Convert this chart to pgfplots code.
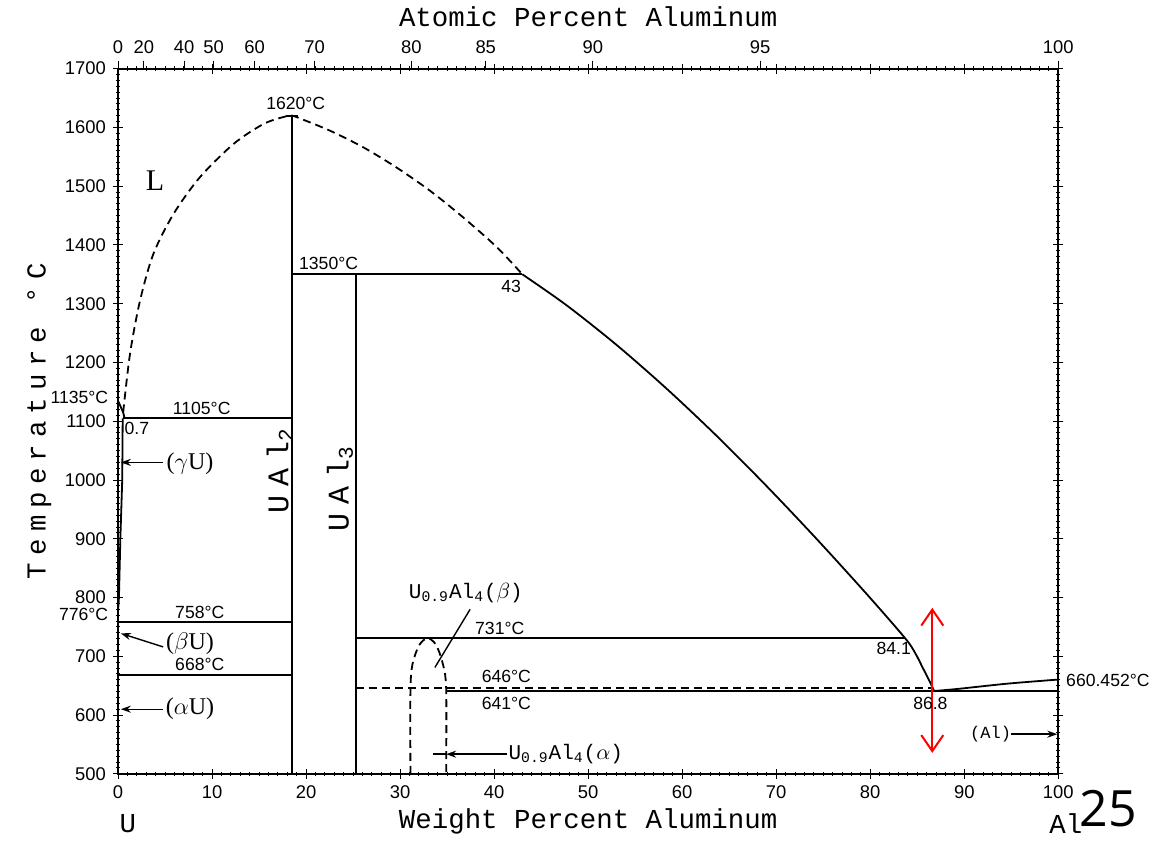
\documentclass[border=0pt]{standalone}
\usepackage{fontspec}
\setmainfont{Liberation Sans}
\newfontfamily\tw{Liberation Mono}
\newfontfamily\twsp[LetterSpace=26]{Liberation Mono}
\newfontfamily\twal[LetterSpace=30]{Liberation Mono}
\newfontfamily\rmf{Liberation Serif}
\newfontfamily\bigsans{Open Sans}
\usepackage{pgfplots}
\pgfplotsset{compat=1.18}
\usetikzlibrary{arrows.meta}

\tikzset{
  ph/.style={black, line width=0.9pt},
  phd/.style={black, line width=0.9pt, dash pattern=on 4pt off 2.5pt},
  lab/.style={font=\fontsize{8.8}{9}\selectfont, inner sep=0pt},
  phase/.style={font=\fontsize{12}{13}\rmf, inner sep=0pt},
  arr/.style={black, line width=0.7pt, -{Stealth[length=5pt,width=3.5pt]}},
}

\begin{document}
\begin{tikzpicture}
\begin{axis}[
    width=470pt, height=352.5pt, scale only axis,
    xmin=0, xmax=100, ymin=500, ymax=1700,
    xtick={0,10,...,100}, ytick={500,600,...,1700},
    minor x tick num=9, minor y tick num=9,
    tick align=center, major tick length=5pt, minor tick length=2.2pt,
    tick style={black, line width=0.5pt},
    axis line style={line width=0.9pt},
    ticklabel style={font=\fontsize{9.2}{10}\selectfont},
    /pgf/number format/assume math mode=true,
    /pgf/number format/set thousands separator={},
    xlabel={\fontsize{13.7}{14}\tw Weight Percent Aluminum},
    ylabel={\fontsize{13.7}{14}\twsp Temperature °C},
    xlabel style={yshift=2pt},
    clip=false,
]
% invisible frame: keeps the picture's proportions
\path (axis cs:-12.55,396.2) rectangle (axis cs:110.5,1815.7);

% liquidus, dashed part
\addplot[phd, smooth] coordinates {
  (0.55,1115)(1.28,1215)(2.34,1305)(3.76,1384.6)(5.9,1452.6)(8.7,1515)
  (12.3,1572)(15.5,1606)(17.9,1619)(18.5,1620)(19.4,1615)(22.6,1594)
  (26.1,1566)(29.6,1532)(33.2,1492)(36.7,1447)(40.3,1396)(43,1350)};
% liquidus, solid part
\addplot[ph, smooth] coordinates {
  (43,1350)(47.7,1297.4)(53.05,1229.5)(58.4,1154.6)(63.7,1074.6)(69.0,989.3)
  (74.3,899.7)(79.6,806.4)(83.7,731)(84.8,705)(85.6,680)(86.3,658)(86.8,641)};
% Al liquidus
\addplot[ph, smooth] coordinates {(86.8,641)(89.3,644.5)(94.6,653.5)(100,660.452)};

% U side
\addplot[ph] coordinates {(0,1135)(0.55,1115)(0.7,1105)};
\addplot[ph] coordinates {(0.5,1105)(0.45,1000)(0.25,900)(0.1,800)(0,776)};

% compounds
\addplot[ph] coordinates {(18.5,500)(18.5,1620)};
\addplot[ph] coordinates {(17.9,1620)(19.1,1620)};
\addplot[ph] coordinates {(25.3,500)(25.3,1350)};

% invariant lines
\addplot[ph] coordinates {(18.5,1350)(43,1350)};
\addplot[ph] coordinates {(0.5,1105)(18.5,1105)};
\addplot[ph] coordinates {(0,758)(18.5,758)};
\addplot[ph] coordinates {(0,668)(18.5,668)};
\addplot[ph] coordinates {(25.3,731)(83.7,731)};
\addplot[phd] coordinates {(25.3,646)(86.6,646)};
\addplot[ph] coordinates {(34.9,641)(100,641)};

% U0.9Al4 dome
\addplot[phd, smooth] coordinates {
  (31.1,500)(31.1,640)(31.3,685)(32.0,718)(32.9,731)(33.8,720)(34.5,690)(34.9,646)(34.9,500)};

% pointers
\addplot[arr] coordinates {(4.8,1030)(0.3,1030)};
\addplot[arr] coordinates {(4.8,716)(0.3,739)};
\addplot[arr] coordinates {(4.8,610)(0.3,610)};
\addplot[arr] coordinates {(95.0,567.5)(99.9,567.5)};
\addplot[arr] coordinates {(41.4,533.5)(34.9,533.5)};
\addplot[black, line width=0.7pt] coordinates {(34.9,533.5)(33.5,533.5)};
\addplot[black, line width=0.7pt] coordinates {(37.45,780)(33.7,681)};

% red double arrow
\addplot[red, line width=1pt,
  {Straight Barb[length=8pt,width=11pt]}-{Straight Barb[length=8pt,width=11pt]}]
  coordinates {(86.6,535.7)(86.6,782.5)};

% labels
\node[font=\fontsize{15}{16}\rmf] at (axis cs:3.94,1509) {L};
\node[lab] at (axis cs:18.9,1640) {1620°C};
\node[lab] at (axis cs:22.4,1368) {1350°C};
\node[lab] at (axis cs:41.8,1329) {43};
\node[lab, anchor=east] at (axis cs:-1.0,1140) {1135°C};
\node[lab] at (axis cs:8.9,1121) {1105°C};
\node[lab] at (axis cs:2.0,1087) {0.7};
\node[phase] at (axis cs:7.66,1028) {($\gamma$U)};
\node[font=\fontsize{15}{16}\twal, rotate=90, inner sep=0pt] at (axis cs:17.2,1016) {UAl\textsubscript{2}};
\node[font=\fontsize{15}{16}\twal, rotate=90, inner sep=0pt] at (axis cs:23.6,985) {UAl\textsubscript{3}};
\node[lab, anchor=east] at (axis cs:-1.0,771) {776°C};
\node[lab] at (axis cs:8.7,775) {758°C};
\node[phase] at (axis cs:7.66,721) {($\beta$U)};
\node[lab] at (axis cs:8.7,687) {668°C};
\node[phase] at (axis cs:7.66,611) {($\alpha$U)};
\node[font=\fontsize{10.5}{11}\tw, inner sep=0pt] at (axis cs:37.0,808) {U\textsubscript{0.9}Al\textsubscript{4}($\beta$)};
\node[lab] at (axis cs:40.6,747) {731°C};
\node[lab] at (axis cs:41.3,665) {646°C};
\node[lab] at (axis cs:41.3,619) {641°C};
\node[font=\fontsize{10.5}{11}\tw, inner sep=0pt, anchor=west] at (axis cs:41.5,533.5) {U\textsubscript{0.9}Al\textsubscript{4}($\alpha$)};
\node[lab] at (axis cs:82.5,713) {84.1};
\node[lab] at (axis cs:86.4,619) {86.8};
\node[lab, anchor=west] at (axis cs:100.8,659) {660.452°C};
\node[font=\fontsize{8.5}{9}\tw, inner sep=0pt] at (axis cs:92.8,568) {(Al)};
\node[font=\fontsize{13.7}{14}\tw] at (axis cs:1.06,415) {U};
\node[font=\fontsize{13.7}{14}\tw] at (axis cs:100.8,415) {Al};
\node[font=\fontsize{25}{26}\bigsans] at (axis cs:105.3,440) {25};
\end{axis}

% atomic percent scale on top
\begin{axis}[
    width=470pt, height=352.5pt, scale only axis,
    xmin=0, xmax=100, ymin=500, ymax=1700,
    axis x line*=top, axis y line=none,
    xtick={0,2.76,7.03,10.18,14.53,20.92,31.20,39.11,50.50,68.29,100},
    xticklabels={0,20,40,50,60,70,80,85,90,95,100},
    tick align=outside, major tick length=4pt,
    tick style={black, line width=0.5pt},
    axis line style={line width=0.9pt},
    ticklabel style={font=\fontsize{9.2}{10}\selectfont},
    xlabel={\fontsize{13.7}{14}\tw Atomic Percent Aluminum},
]
\addplot[draw=none] coordinates {(0,500)(100,1700)};
\end{axis}
\end{tikzpicture}
\end{document}
